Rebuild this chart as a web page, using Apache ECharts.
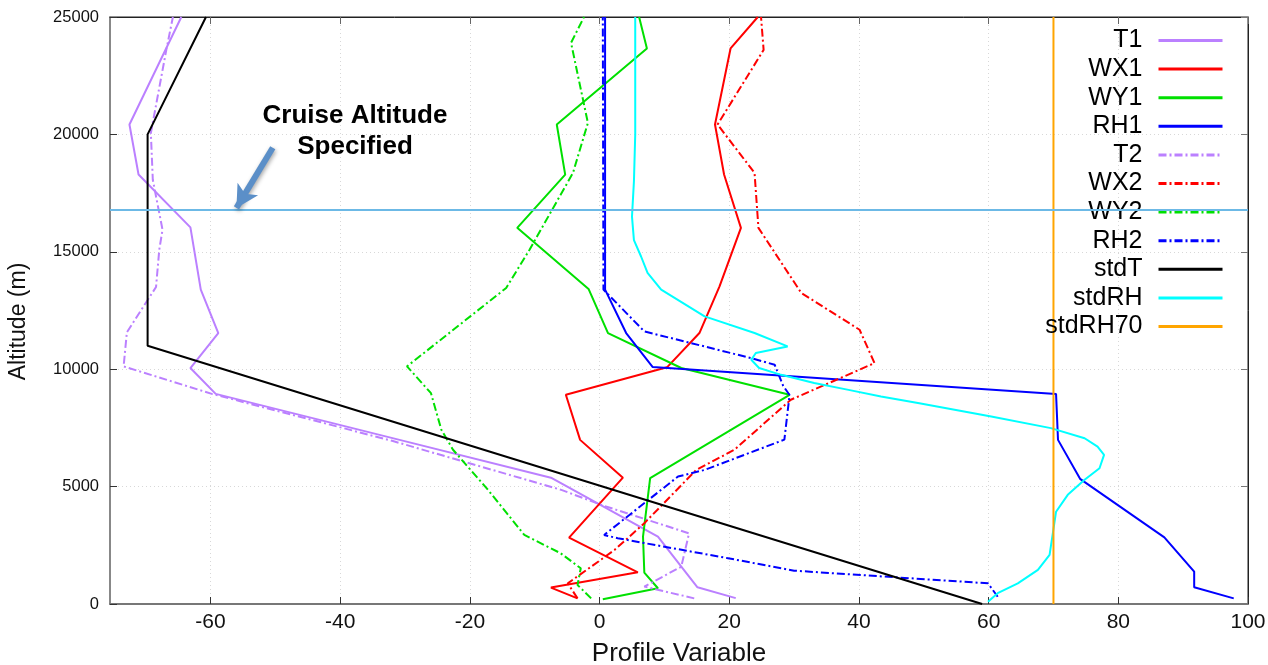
<!DOCTYPE html>
<html><head><meta charset="utf-8">
<script src="https://cdn.jsdelivr.net/npm/echarts@6/dist/echarts.min.js"></script>
<style>html,body{margin:0;padding:0;background:#fff}#c{width:1268px;height:665px}</style>
</head><body><div id="c"></div>
<script>
// ---- tick labels ----
const xTicks = [-60, -40, -20, 0, 20, 40, 60, 80, 100];
const altTicks = [0, 5000, 10000, 15000, 20000, 25000];

// ---- series data (value, altitude in m) ----
const T1_x   = [21.0, 15.1, 9.0, -7.5, -31.0, -59.2, -63.1, -58.8, -61.5, -63.1, -71.1, -72.5, -64.5];
const T1_alt = [250, 710, 2870, 5380, 7000, 8950, 10050, 11540, 13390, 16040, 18290, 20420, 25000];

const WX1_x   = [-3.4, -7.5, 5.9, -4.7, 3.6, -3.0, -5.2, 10.4, 15.4, 18.5, 21.8, 19.2, 17.8, 20.2, 24.4];
const WX1_alt = [240, 700, 1350, 2830, 5380, 6990, 8910, 10080, 11540, 13530, 16020, 18290, 20420, 23660, 25000];

const WY1_x   = [0.5, 9.0, 6.9, 6.7, 7.8, 29.3, 12.6, 1.3, -1.7, -12.7, -5.3, -6.6, 7.3, 6.1];
const WY1_alt = [200, 670, 1340, 2870, 5360, 8910, 10050, 11540, 13420, 16020, 18290, 20420, 23660, 25000];

const RH1_x   = [97.8, 91.7, 91.7, 87.1, 74.1, 70.7, 70.4, 8.2, 4.1, 0.85, 0.85];
const RH1_alt = [240, 710, 1380, 2840, 5330, 6990, 8940, 10090, 11540, 13390, 25000];

const T2_x   = [14.6, 6.9, 12.6, 13.8, 0.7, -5.9, -32.0, -59.8, -73.4, -72.9, -68.4, -67.9, -67.4, -68.9, -69.2, -66.8, -65.8];
const T2_alt = [240, 740, 1590, 3010, 4180, 4860, 6950, 8950, 10120, 11570, 13500, 15090, 15940, 18070, 20060, 23620, 25000];

const WX2_x   = [-3.4, -4.9, 2.3, 6.9, 14.9, 20.8, 29.5, 42.4, 40.1, 31.1, 24.5, 23.9, 18.2, 25.3, 24.9];
const WX2_alt = [240, 880, 2300, 3440, 5710, 6570, 8700, 10260, 11680, 13250, 16020, 18360, 20420, 23600, 25000];

const WY2_x   = [-1.3, -3.4, -2.9, -6.0, -11.6, -17.2, -22.6, -24.4, -26.0, -29.7, -14.4, -10.8, -4.1, -1.8, -4.4, -2.4];
const WY2_alt = [240, 810, 1520, 2160, 2940, 4860, 6570, 7420, 8980, 10120, 13460, 15090, 18360, 20490, 23900, 25000];

const RH2_x   = [61.4, 59.9, 30.0, 19.8, 2.8, 0.7, 12.1, 16.2, 28.5, 29.3, 28.3, 27.0, 23.4, 6.9, 0.6, 0.5];
const RH2_alt = [310, 880, 1420, 1950, 2800, 2940, 5430, 5710, 7000, 8900, 9300, 10190, 10470, 11610, 13390, 25000];

const stdT_x   = [59, -69.7, -69.7, -60.7];
const stdT_alt = [0, 11000, 20000, 25000];

const stdRH_x   = [59.9, 61.4, 64.5, 67.6, 69.4, 69.9, 70.4, 72.2, 74.8, 77.1, 77.8, 76.8, 74.8, 69.6, 60.4, 49.1, 43.4, 38.4, 33.1, 28.0, 24.6, 23.4, 24.1, 29.0, 23.9, 16.2, 9.5, 7.4, 6.4, 5.3, 5.0, 5.3, 5.5, 5.5];
const stdRH_alt = [100, 460, 880, 1450, 2090, 3010, 3930, 4650, 5290, 5780, 6350, 6700, 7060, 7490, 7990, 8560, 8840, 9120, 9410, 9760, 10050, 10400, 10690, 10970, 11540, 12250, 13390, 14100, 14800, 15500, 16500, 18000, 20000, 25000];

const stdRH70_x   = [70, 70];
const stdRH70_alt = [0, 25000];

const cruiseAlt = 16800;
const arrowFrom = [-50.4, 19430];
const arrowTo   = [-56.0, 16870];

const seriesNames = ['T1', 'WX1', 'WY1', 'RH1', 'T2', 'WX2', 'WY2', 'RH2', 'stdT', 'stdRH', 'stdRH70'];

// ---- build ----
const zip = (xs, ys) => xs.map((v, i) => [v, ys[i]]);
const DASHDOT = [8, 3, 2, 3];
const defs = [
  ['T1', T1_x, T1_alt, '#bb80ff', 'solid'],
  ['WX1', WX1_x, WX1_alt, '#ff0000', 'solid'],
  ['WY1', WY1_x, WY1_alt, '#00e000', 'solid'],
  ['RH1', RH1_x, RH1_alt, '#0000ff', 'solid'],
  ['T2', T2_x, T2_alt, '#bb80ff', DASHDOT],
  ['WX2', WX2_x, WX2_alt, '#ff0000', DASHDOT],
  ['WY2', WY2_x, WY2_alt, '#00e000', DASHDOT],
  ['RH2', RH2_x, RH2_alt, '#0000ff', DASHDOT],
  ['stdT', stdT_x, stdT_alt, '#000000', 'solid'],
  ['stdRH', stdRH_x, stdRH_alt, '#00ffff', 'solid'],
  ['stdRH70', stdRH70_x, stdRH70_alt, '#ffa500', 'solid']
];
const FONT = '"Liberation Sans", Arial, sans-serif';

const series = defs.map(([name, xs, ys, color, type]) => ({
  name, type: 'line', data: zip(xs, ys), symbol: 'none', showSymbol: false,
  color, lineStyle: { color, width: 2, type }, animation: false, z: 3
}));

series.push({
  name: 'cruise', type: 'line', data: [], symbol: 'none', animation: false,
  markLine: {
    silent: true, animation: false, label: { show: false },
    data: [
      [{ coord: [-75.5, cruiseAlt], symbol: 'none' }, { coord: [100, cruiseAlt], symbol: 'none' }]
    ],
    lineStyle: { color: '#6cb9e6', width: 2, type: 'solid' }
  }
});
series.push({
  name: 'arrow', type: 'line', data: [], symbol: 'none', animation: false,
  markLine: {
    silent: true, animation: false, label: { show: false },
    data: [
      [{ coord: arrowFrom, symbol: 'none' }, { coord: arrowTo, symbol: 'arrow', symbolSize: [18, 22] }]
    ],
    lineStyle: { color: '#5b8fc8', width: 6, type: 'solid', shadowBlur: 4, shadowColor: 'rgba(0,0,0,0.35)', shadowOffsetX: 1, shadowOffsetY: 2 }
  }
});

const option = {
  animation: false,
  backgroundColor: '#fff',
  grid: { left: 110, right: 20, top: 17, bottom: 61, containLabel: false, outerBoundsMode: 'none', show: true, borderColor: '#222', borderWidth: 1, backgroundColor: 'transparent' },
  legend: {
    data: seriesNames, orient: 'vertical', align: 'right', right: 39, top: 23,
    itemWidth: 64, itemHeight: 14, itemGap: 3.6,
    itemStyle: { opacity: 0, borderWidth: 0 },
    lineStyle: { width: 3 },
    textStyle: { fontFamily: FONT, fontSize: 25, color: '#000', lineHeight: 25, padding: [0, 11, 0, 0] }
  },
  xAxis: [{
    type: 'value', min: -75.5, max: 100, position: 'bottom',
    name: 'Profile Variable', nameLocation: 'middle', nameGap: 37,
    nameTextStyle: { fontFamily: FONT, fontSize: 26, color: '#111' },
    axisLine: { show: true, onZero: false, lineStyle: { color: '#777', width: 2 } },
    axisTick: { show: true, inside: true, length: 7, customValues: xTicks, lineStyle: { color: '#333' } },
    axisLabel: { customValues: xTicks, fontFamily: FONT, fontSize: 21, color: '#111', margin: 8 },
    splitLine: { show: true, lineStyle: { color: '#d8d8d8', type: [1, 3], width: 1 } }
  }, {
    type: 'value', min: -75.5, max: 100, position: 'top',
    axisLine: { show: true, onZero: false, lineStyle: { color: '#222', width: 1 } },
    axisTick: { show: true, inside: true, length: 7, customValues: xTicks, lineStyle: { color: '#666' } },
    axisLabel: { show: false, customValues: xTicks },
    splitLine: { show: false }
  }],
  yAxis: [{
    type: 'value', min: 0, max: 25000, interval: 5000, position: 'left',
    name: 'Altitude (m)', nameLocation: 'middle', nameGap: 80, nameRotate: 90,
    nameTextStyle: { fontFamily: FONT, fontSize: 23, color: '#111', padding: [0, 22, 0, 0] },
    axisLine: { show: true, onZero: false, lineStyle: { color: '#888', width: 2 } },
    axisTick: { show: true, inside: true, length: 7, lineStyle: { color: '#333' } },
    axisLabel: { fontFamily: FONT, fontSize: 16.5, color: '#111', margin: 11, formatter: v => String(v) },
    splitLine: { show: true, lineStyle: { color: '#d8d8d8', type: [1, 3], width: 1 } }
  }, {
    type: 'value', min: 0, max: 25000, interval: 5000, position: 'right',
    axisLine: { show: true, onZero: false, lineStyle: { color: '#222', width: 1 } },
    axisTick: { show: true, inside: true, length: 7, lineStyle: { color: '#777' } },
    axisLabel: { show: false },
    splitLine: { show: false }
  }],
  graphic: [{
    type: 'text', x: 355, y: 100, z: 100,
    style: {
      text: 'Cruise Altitude\nSpecified', fontFamily: FONT, fontWeight: 'bold', fontSize: 26,
      lineHeight: 31, fill: '#000', align: 'center', verticalAlign: 'top'
    }
  }],
  series
};
const chart = echarts.init(document.getElementById('c'), null, { renderer: 'canvas' });
chart.setOption(option);
</script>
</body></html>
